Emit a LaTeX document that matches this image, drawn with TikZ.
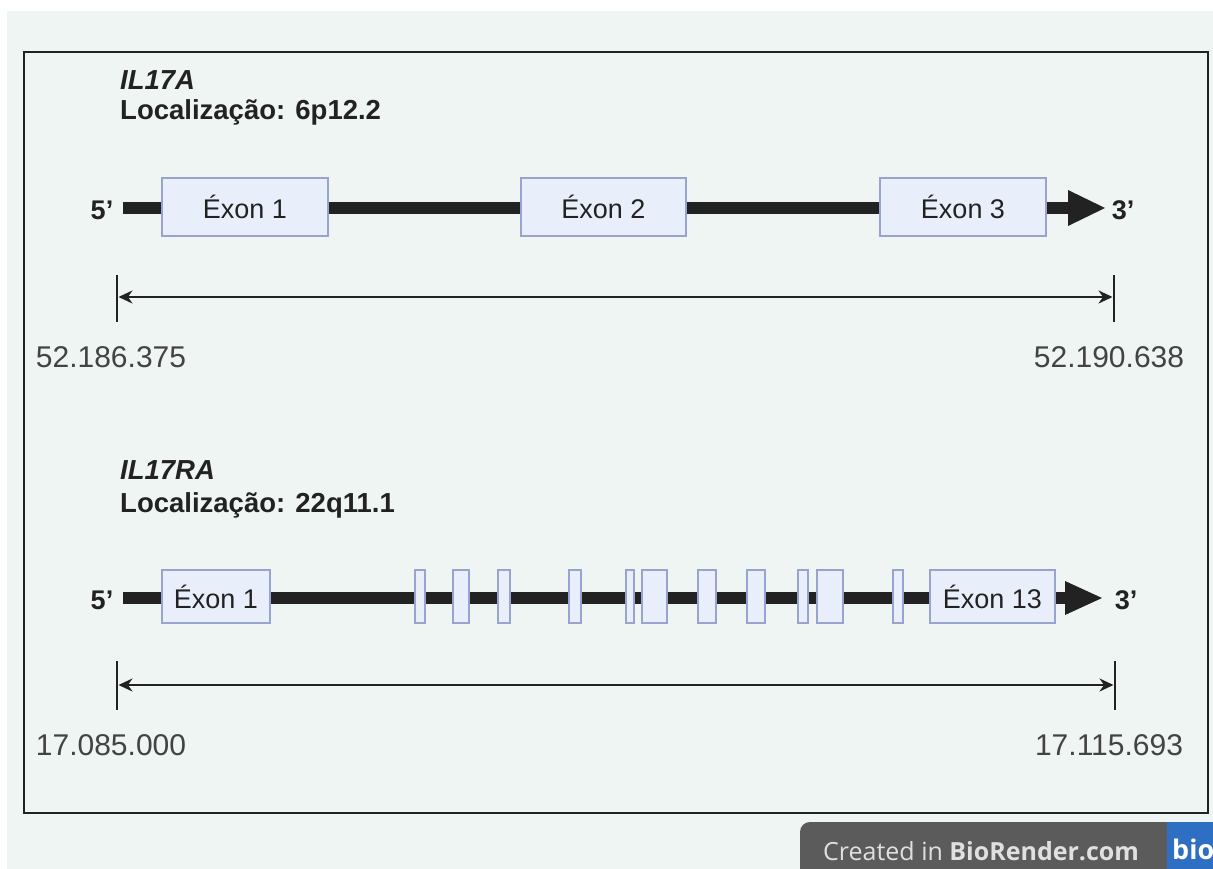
\documentclass[tikz,border=0pt]{standalone}
\usepackage{fontspec}
\setmainfont{Liberation Sans}
\newfontfamily\badgefont{Open Sans}
\usetikzlibrary{arrows.meta}
\definecolor{mint}{HTML}{EEF5F3}
\definecolor{ink}{HTML}{222222}
\definecolor{exfill}{HTML}{E9EFFA}
\definecolor{exline}{HTML}{98A4CE}
\definecolor{badge}{HTML}{5B5B5B}
\definecolor{badgeblue}{HTML}{2F6FC3}
\tikzset{
  exon/.style={draw=exline, fill=exfill, line width=1.2pt, inner sep=0pt,
    text=ink, font=\fontsize{27}{30}\selectfont},
  gene/.style={line width=12pt, draw=ink},
  tick/.style={line width=2.6pt, draw=ink},
  span/.style={line width=2.4pt, draw=ink,
    {Stealth[length=14pt,width=13pt]}-{Stealth[length=14pt,width=13pt]}},
  lab/.style={inner sep=0pt, text=ink},
  num/.style={inner sep=0pt, text=ink!85, font=\fontsize{30}{34}\selectfont},
  head/.style={inner sep=0pt, anchor=west, text=ink, font=\fontsize{27.5}{32}\selectfont\bfseries},
}
\begin{document}
\begin{tikzpicture}[x=1pt,y=-1pt]
\useasboundingbox (0,0) rectangle (1213,869);
\begin{scope}
\clip (0,0) rectangle (1213,869);
\fill[white] (0,0) rectangle (1213,869);
\fill[mint] (7,11) rectangle (1213,869);

% outer frame
\draw[line width=2.9pt, draw=ink] (24,52) rectangle (1208,813);

% ---------------- IL17A ----------------
\node[head] (h1) at (120,80) {\itshape IL17A};
\node[head] (l1) at (120,112) {Localização: 6p12.2};

\node[lab, font=\fontsize{27}{30}\selectfont\bfseries] (p5a) at (102,210) {5'};
\node[lab, font=\fontsize{27}{30}\selectfont\bfseries] (p3a) at (1123,210) {3'};
\coordinate (a0) at (123,208);
\coordinate (a1) at (1072,208);
\coordinate (atip) at (1105,208);
\draw[gene] (a0) -- (a1);
\fill[ink] (1068,190) -- (atip) -- (1068,226) -- cycle;

\node[exon, minimum width=166pt, minimum height=58pt] (ea1) at (245,207) {Éxon 1};
\node[exon, minimum width=165pt, minimum height=58pt] (ea2) at (603.5,207) {Éxon 2};
\node[exon, minimum width=166pt, minimum height=58pt] (ea3) at (963,207) {Éxon 3};

% genomic span
\coordinate (ta1) at (117,275);
\coordinate (tb1) at (117,322);
\coordinate (ta2) at (1114,275);
\coordinate (tb2) at (1114,322);
\draw[tick] (ta1) -- (tb1);
\draw[tick] (ta2) -- (tb2);
\coordinate (sa) at (118.5,297);
\coordinate (sb) at (1112.5,297);
\draw[span] (sa) -- (sb);
\node[num] (na1) at (111,357) {52.186.375};
\node[num] (na2) at (1109,357) {52.190.638};

% ---------------- IL17RA ----------------
\node[head] (h2) at (120,470) {\itshape IL17RA};
\node[head] (l2) at (120,505) {Localização: 22q11.1};

\node[lab, font=\fontsize{27}{30}\selectfont\bfseries] (p5b) at (102,600) {5'};
\node[lab, font=\fontsize{27}{30}\selectfont\bfseries] (p3b) at (1126,600) {3'};
\coordinate (b0) at (123,598);
\coordinate (b1) at (1070,598);
\coordinate (btip) at (1102,598);
\draw[gene] (b0) -- (b1);
\fill[ink] (1065,581) -- (btip) -- (1065,615) -- cycle;

\node[exon, minimum width=108pt, minimum height=53pt] (eb1) at (216,596.5) {Éxon 1};
\foreach \l/\r [count=\i from 2] in {415/425, 453/469, 498/510, 569/581, 626/634,
    642/667, 698/716, 747/765, 798/808, 817/843, 893/903} {
  \node[exon, minimum width={\r-\l}, minimum height=53pt] (eb\i) at ({(\l+\r)/2},596.5) {};
}
\node[exon, minimum width=125pt, minimum height=53pt] (eb13) at (992.5,596.5) {Éxon 13};

% genomic span
\coordinate (tc1) at (117,661);
\coordinate (td1) at (117,710);
\coordinate (tc2) at (1115,661);
\coordinate (td2) at (1115,710);
\draw[tick] (tc1) -- (td1);
\draw[tick] (tc2) -- (td2);
\coordinate (sc) at (118.5,685);
\coordinate (sd) at (1113.5,685);
\draw[span] (sc) -- (sd);
\node[num] (nb1) at (111,745) {17.085.000};
\node[num] (nb2) at (1109,745) {17.115.693};

% ---------------- badge ----------------
\fill[badge, rounded corners=10pt] (800,822) rectangle (1240,900);
\fill[badgeblue] (1167,822) rectangle (1240,900);
\node[inner sep=0pt, anchor=west, text=white!88!black, font=\badgefont\fontsize{25}{30}\selectfont] (cr) at (823,851)
  {Created in \textbf{BioRender.com}};
\node[inner sep=0pt, anchor=west, text=white, font=\badgefont\fontsize{27}{30}\selectfont\bfseries] (bio) at (1172,849) {bio};
\end{scope}
\end{tikzpicture}
\end{document}
